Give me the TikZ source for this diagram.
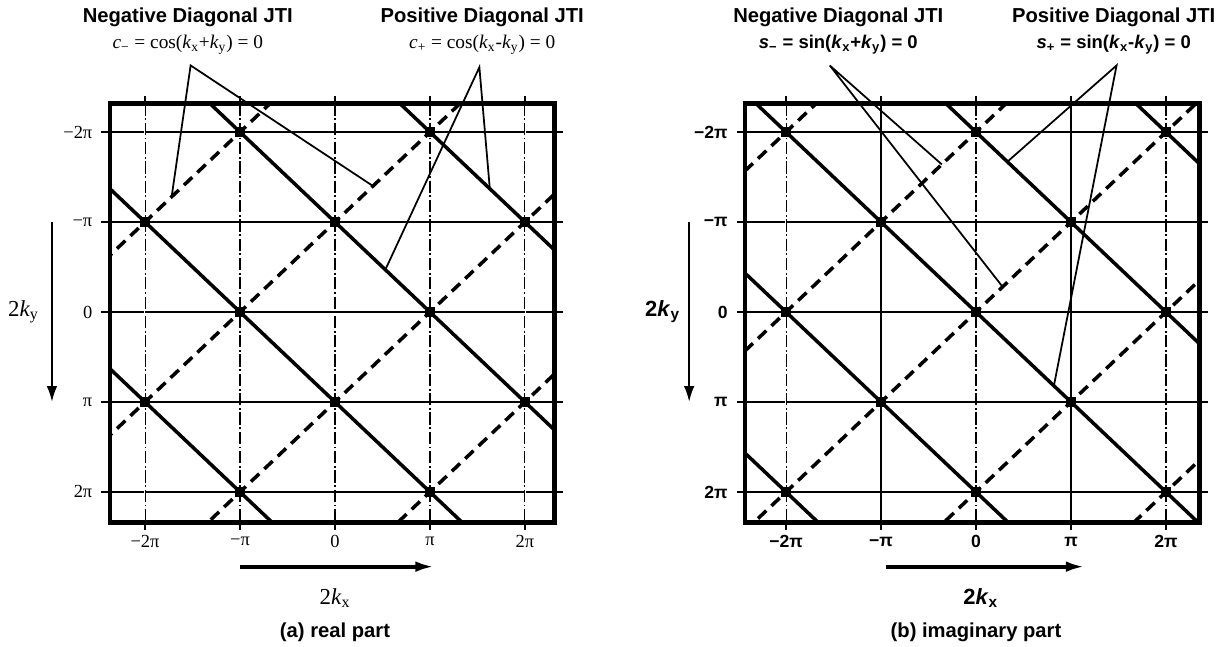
\documentclass[tikz,border=0pt]{standalone}
\usepackage{fontspec}
\setmainfont{Liberation Serif}
\setsansfont{Liberation Sans}
\usetikzlibrary{arrows,arrows.meta,positioning,calc}

\begin{document}
\begin{tikzpicture}[x=0.02cm,y=-0.02cm,
    moldura/.style={line width=2.6pt},
    grade/.style={line width=0.7pt},
    gradev/.style={line width=0.6pt,dash pattern=on 7pt off 1.5pt on 1pt off 1.5pt},
    jti/.style={line width=2pt},
    jtitrac/.style={line width=2pt,dash pattern=on 6.5pt off 4pt},
    guia/.style={line width=1pt},
    marca/.style={fill=black},
    titulo/.style={font=\sffamily\bfseries\fontsize{11.5}{13}\selectfont,inner sep=1pt},
    formula/.style={font=\fontsize{11}{13}\selectfont,inner sep=1pt},
    formulab/.style={font=\sffamily\bfseries\fontsize{10.5}{13}\selectfont,inner sep=1pt},
    rot/.style={font=\fontsize{10.5}{12}\selectfont},
    rotb/.style={font=\sffamily\bfseries\fontsize{10}{12}\selectfont},
    legenda/.style={font=\sffamily\bfseries\fontsize{11.5}{13}\selectfont},
    seta/.style={-{Latex[length=9pt,width=6pt]},line width=1.2pt},
    setah/.style={-{Latex[length=11pt,width=6pt]},line width=2.2pt}]

  \useasboundingbox (0,0) rectangle (1224,646);

  % (a) parte real
  \begin{scope}[shift={(335,312)},x=1.9cm,y=-1.8cm]
    % grade
    \foreach \t in {-2,...,2} {
      \draw[grade] (-2.46,\t) -- (2.40,\t);
      \draw[grade] (\t,-2.40) -- (\t,2.42);
    }
    % linhas JTI
    \begin{scope}
      \clip (-2.37,-2.32) rectangle (2.31,2.34);
      \foreach \t in {-2,...,2}
        \draw[white,line width=1pt] (\t,-2.32) -- (\t,2.34);
      \foreach \t in {-2,...,2}
        \draw[gradev] (\t,-2.32) -- (\t,2.34);
      \foreach \c in {-3,-1,1,3} {
        \draw[jti] (-3,-3+\c) -- (3,3+\c);
        \draw[jtitrac] (-3,\c+3) -- (3,\c-3);
      }
    \end{scope}
    % cruzamentos
    \foreach \p in {(-1,-2),(1,-2),(-2,-1),(0,-1),(2,-1),(-1,0),(1,0),(-2,1),(0,1),(2,1),(-1,2),(1,2)}
      \fill[marca] \p +(-2.6pt,-2.6pt) rectangle +(2.6pt,2.6pt);
    % moldura
    \draw[moldura] (-2.37,-2.32) rectangle (2.31,2.34);
    % rotulos dos eixos
    \foreach \t/\lbl [count=\i] in {-2/−2π,-1/−π,0/0,1/π,2/2π} {
      \node[rot,anchor=east] (ya\i) at (-2.49,\t) {\lbl};
      \node[rot] (xa\i) at (\t,2.55) {\lbl};
    }
    \draw[seta] (-2.98,-1) -- (-2.98,1);
    \node[font=\fontsize{13}{14}\selectfont] (kya) at (-3.28,0) {2\textit{k}\textsubscript{y}};
    \draw[setah] (-1,2.83) -- (1.05,2.83);
    \node[font=\fontsize{13}{14}\selectfont] (kxa) at (0,3.18) {2\textit{k}\textsubscript{x}};
    \node[legenda] (capa) at (0,3.56) {(a) real part};
    % JTI diagonais
    \node[titulo] (tnega) at (-1.55,-3.27) {Negative Diagonal JTI};
    \node[formula,below=2pt of tnega] (fnega) {\textit{c}\textsubscript{−} = cos(\textit{k}\textsubscript{x}+\textit{k}\textsubscript{y}) = 0};
    \node[titulo] (tposa) at (1.55,-3.27) {Positive Diagonal JTI};
    \node[formula,below=2pt of tposa] (fposa) {\textit{c}\textsubscript{+} = cos(\textit{k}\textsubscript{x}-\textit{k}\textsubscript{y}) = 0};
    \coordinate (nega) at (-1.52,-2.74);
    \coordinate (nega1) at (-1.72,-1.28);
    \coordinate (nega2) at (0.40,-1.40);
    \coordinate (posa) at (1.52,-2.72);
    \coordinate (posa1) at (1.63,-1.37);
    \coordinate (posa2) at (0.53,-0.47);
    \draw[guia] (nega1) -- (nega) -- (nega2);
    \draw[guia] (posa1) -- (posa) -- (posa2);
  \end{scope}

  % (b) parte imaginaria
  \begin{scope}[shift={(976,312)},x=1.9cm,y=-1.8cm]
    % grade
    \foreach \t in {-2,...,2} {
      \draw[grade] (-2.52,\t) -- (2.44,\t);
      \draw[grade] (\t,-2.40) -- (\t,2.42);
    }
    % linhas JTI
    \begin{scope}
      \clip (-2.43,-2.32) rectangle (2.35,2.34);
      \foreach \t in {-2,0,2}
        \draw[white,line width=1pt] (\t,-2.32) -- (\t,2.34);
      \foreach \t in {-2,0,2}
        \draw[gradev] (\t,-2.32) -- (\t,2.34);
      \foreach \c in {-4,-2,0,2,4} {
        \draw[jti] (-3,-3+\c) -- (3,3+\c);
        \draw[jtitrac] (-3,\c+3) -- (3,\c-3);
      }
    \end{scope}
    % cruzamentos
    \foreach \p in {(-2,-2),(0,-2),(2,-2),(-1,-1),(1,-1),(-2,0),(0,0),(2,0),(-1,1),(1,1),(-2,2),(0,2),(2,2)}
      \fill[marca] \p +(-2.6pt,-2.6pt) rectangle +(2.6pt,2.6pt);
    % moldura
    \draw[moldura] (-2.43,-2.32) rectangle (2.35,2.34);
    % rotulos dos eixos
    \foreach \t/\lbl [count=\i] in {-2/−2π,-1/−π,0/0,1/π,2/2π} {
      \node[rotb,anchor=east] (yb\i) at (-2.55,\t) {\lbl};
      \node[rotb] (xb\i) at (\t,2.55) {\lbl};
    }
    \draw[seta] (-3.02,-1) -- (-3.02,1);
    \node[font=\sffamily\bfseries\fontsize{12.5}{14}\selectfont] (kyb) at (-3.30,0) {2\textit{k}\textsubscript{y}};
    \draw[setah] (-0.95,2.83) -- (1.15,2.83);
    \node[font=\sffamily\bfseries\fontsize{12.5}{14}\selectfont] (kxb) at (0.05,3.18) {2\textit{k}\textsubscript{x}};
    \node[legenda] (capb) at (0,3.56) {(b) imaginary part};
    % JTI diagonais
    \node[titulo] (tnegb) at (-1.45,-3.27) {Negative Diagonal JTI};
    \node[formulab,below=2pt of tnegb] (fnegb) {\textit{s}\textsubscript{−} = sin(\textit{k}\textsubscript{x}+\textit{k}\textsubscript{y}) = 0};
    \node[titulo] (tposb) at (1.45,-3.27) {Positive Diagonal JTI};
    \node[formulab,below=2pt of tposb] (fposb) {\textit{s}\textsubscript{+} = sin(\textit{k}\textsubscript{x}-\textit{k}\textsubscript{y}) = 0};
    \coordinate (negb) at (-1.54,-2.74);
    \coordinate (negb1) at (-0.36,-1.64);
    \coordinate (negb2) at (0.28,-0.28);
    \coordinate (posb) at (1.48,-2.74);
    \coordinate (posb1) at (0.33,-1.67);
    \coordinate (posb2) at (0.82,0.82);
    \draw[guia] (negb1) -- (negb) -- (negb2);
    \draw[guia] (posb1) -- (posb) -- (posb2);
  \end{scope}
\end{tikzpicture}
\end{document}
